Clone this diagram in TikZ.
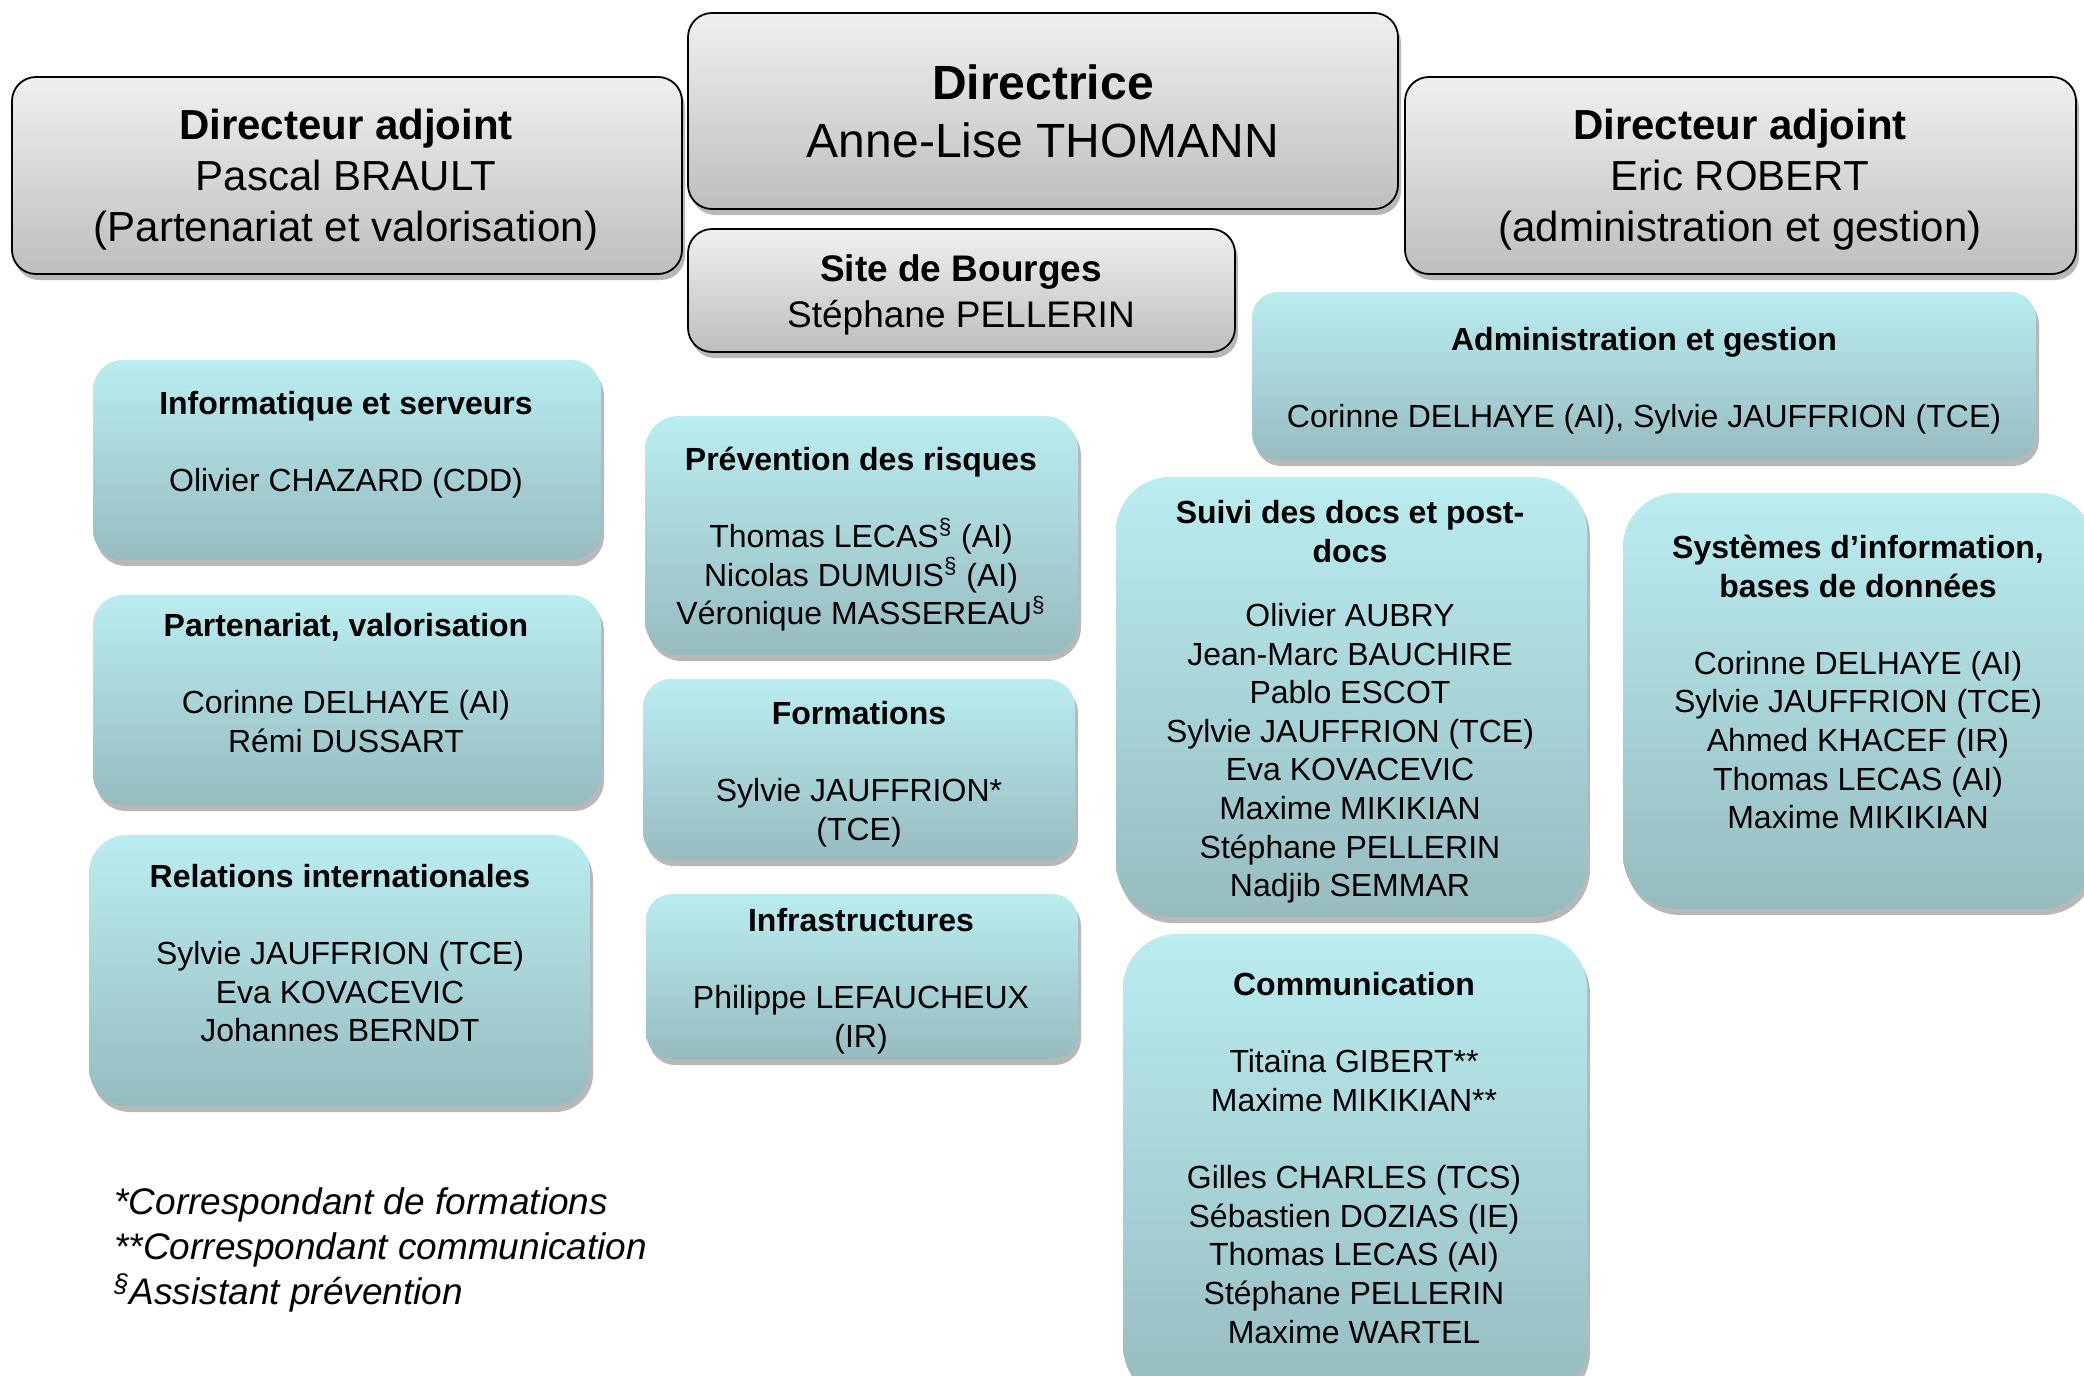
\documentclass[tikz,border=0pt]{standalone}
\usepackage{fontspec}
\setmainfont{Liberation Sans}
\usetikzlibrary{fit,shadows}
\definecolor{gtop}{HTML}{F0F0F0}
\definecolor{gbot}{HTML}{BEBEBE}
\definecolor{btop}{HTML}{BAEDF0}
\definecolor{bbot}{HTML}{97BCC0}
\tikzset{
  x=0.5pt, y=-0.5pt,
  shad/.style={drop shadow={shadow xshift=1.5pt, shadow yshift=-3pt, opacity=0.28, fill=black}},
  gbox/.style={draw=black, line width=0.9pt, rounded corners=12pt, top color=gtop, bottom color=gbot, inner sep=0pt, shad},
  bbox/.style={rounded corners=#1, top color=btop, bottom color=bbot, inner sep=0pt, shad},
  adjtxt/.style={font=\fontsize{21}{25.5}\selectfont, align=center, inner sep=0pt},
  dirtxt/.style={font=\fontsize{24}{29}\selectfont, align=center, inner sep=0pt},
  sitetxt/.style={font=\fontsize{18.5}{22.6}\selectfont, align=center, inner sep=0pt},
  btxt/.style={font=\fontsize{16}{19.3}\selectfont, align=center, inner sep=0pt},
  notetxt/.style={font=\fontsize{18.5}{22.6}\selectfont\itshape, align=left, inner sep=0pt},
}
\begin{document}
\begin{tikzpicture}
\useasboundingbox (0,0) rectangle (2084,1376);
\fill[white] (0,0) rectangle (2084,1376);

% grey boxes
\node[gbox, fit={(12,77) (682,274)}] (adjL) {};
\node[gbox, fit={(688,13) (1398,209)}] (dir) {};
\node[gbox, fit={(1405,77) (2076,274)}] (adjR) {};
\node[gbox, fit={(688,229) (1235,352)}] (site) {};

\node[adjtxt] (adjLt) at (346,180) {\textbf{Directeur adjoint}\\Pascal BRAULT\\(Partenariat et valorisation)};
\node[dirtxt] (dirt) at (1043,111) {\textbf{Directrice}\\Anne-Lise THOMANN};
\node[adjtxt] (adjRt) at (1740,180) {\textbf{Directeur adjoint}\\Eric ROBERT\\(administration et gestion)};
\node[sitetxt] (sitet) at (961,295) {\textbf{Site de Bourges}\\Stéphane PELLERIN};

% blue boxes
\node[bbox=15pt, fit={(93,360) (601,560)}] (info) {};
\node[bbox=15pt, fit={(93,595) (601,805)}] (part) {};
\node[bbox=19pt, fit={(89,835) (590,1106)}] (rel) {};
\node[bbox=17pt, fit={(645,416) (1078,655)}] (prev) {};
\node[bbox=14pt, fit={(643,679) (1075,860)}] (form) {};
\node[bbox=13pt, fit={(646,894) (1078,1059)}] (infra) {};
\node[bbox=13pt, fit={(1252,292) (2036,460)}] (admin) {};
\node[bbox=27pt, fit={(1116,477) (1587,917)}] (suivi) {};
\node[bbox=27pt, fit={(1623,493) (2094,909)}] (sys) {};
\node[bbox=27pt, fit={(1123,934) (1587,1400)}] (comm) {};

\node[btxt] (infot) at (346,445) {\textbf{Informatique et serveurs}\\[19.3pt]Olivier CHAZARD (CDD)};
\node[btxt] (partt) at (346,683) {\textbf{Partenariat, valorisation}\\[19.3pt]Corinne DELHAYE (AI)\\Rémi DUSSART};
\node[btxt] (relt) at (340,953) {\textbf{Relations internationales}\\[19.3pt]Sylvie JAUFFRION (TCE)\\Eva KOVACEVIC\\Johannes BERNDT};
\node[btxt] (prevt) at (861,539) {\textbf{Prévention des risques}\\[19.3pt]Thomas LECAS\textsuperscript{§} (AI)\\Nicolas DUMUIS\textsuperscript{§} (AI)\\Véronique MASSEREAU\textsuperscript{§}};
\node[btxt] (formt) at (859,774) {\textbf{Formations}\\[19.3pt]Sylvie JAUFFRION*\\(TCE)};
\node[btxt] (infrat) at (861,981) {\textbf{Infrastructures}\\[19.3pt]Philippe LEFAUCHEUX\\(IR)};
\node[btxt] (admint) at (1644,381) {\textbf{Administration et gestion}\\[19.3pt]Corinne DELHAYE (AI), Sylvie JAUFFRION (TCE)};
\node[btxt] (suivit) at (1350,702) {\textbf{Suivi des docs et post-}\\\textbf{docs}\\[12.7pt]Olivier AUBRY\\Jean-Marc BAUCHIRE\\Pablo ESCOT\\Sylvie JAUFFRION (TCE)\\Eva KOVACEVIC\\Maxime MIKIKIAN\\Stéphane PELLERIN\\Nadjib SEMMAR};
\node[btxt] (syst) at (1858,682) {\textbf{Systèmes d’information,}\\\textbf{bases de données}\\[19.3pt]Corinne DELHAYE (AI)\\Sylvie JAUFFRION (TCE)\\Ahmed KHACEF (IR)\\Thomas LECAS (AI)\\Maxime MIKIKIAN};
\node[btxt] (commt) at (1354,1158) {\textbf{Communication}\\[19.3pt]Titaïna GIBERT**\\Maxime MIKIKIAN**\\[19.3pt]Gilles CHARLES (TCS)\\Sébastien DOZIAS (IE)\\Thomas LECAS (AI)\\Stéphane PELLERIN\\Maxime WARTEL};

% notes
\node[notetxt, anchor=west] (notes) at (114,1250) {*Correspondant de formations\\**Correspondant communication\\\textsuperscript{§}Assistant prévention};
\end{tikzpicture}
\end{document}
